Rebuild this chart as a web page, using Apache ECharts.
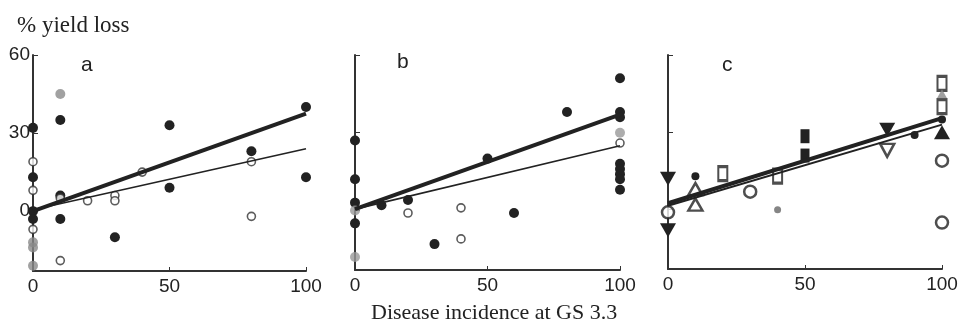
<!DOCTYPE html>
<html lang="en">
<head>
<meta charset="UTF-8">
<title>Yield loss vs disease incidence</title>
<style>
  html, body { margin: 0; padding: 0; background: #fff; }
  #chart { width: 962px; height: 325px; }
</style>
</head>
<body>
<div id="chart"></div>
<script src="https://cdn.jsdelivr.net/npm/echarts@6/dist/echarts.min.js"></script>
<script>
// ---- data: [disease incidence %, % yield loss] ----
var xTicks = [0, 50, 100];
var yTicks = [0, 30, 60];

// panel a
var aDark = [[0, 32], [0, 13], [0, 0], [0, -3], [10, 35], [10, 6], [10, -3], [30, -10],
  [50, 33], [50, 9], [80, 23], [100, 40], [100, 13]];
var aGray = [[10, 45], [0, -12], [0, -14], [0, -21]];
var aOpen = [[0, 19], [0, 8], [0, -7], [10, 5], [10, -19], [20, 4], [30, 6], [30, 4],
  [40, 15], [80, 19], [80, -2]];
var aThick = [[0, 0], [100, 37.5]];
var aThin = [[0, 0.5], [100, 24]];

// panel b
var bDark = [[0, 27], [0, 12], [0, 3], [0, -5], [10, 2], [20, 4], [30, -13], [50, 20],
  [60, -1], [80, 38], [100, 51], [100, 38], [100, 36], [100, 18], [100, 16],
  [100, 14], [100, 12], [100, 8]];
var bGray = [[0, 0], [0, -18], [100, 30]];
var bOpen = [[20, -1], [40, 1], [40, -11], [100, 26]];
var bThick = [[0, 0.5], [100, 37]];
var bThin = [[0, 0.5], [100, 25]];

// panel c
var cTriDownFilled = [[0, 12], [0, -8], [80, 31]];
var cTriDownOpen = [[80, 23]];
var cTriUpOpen = [[10, 8], [10, 2]];
var cTriUpFilled = [[100, 30]];
var cCircleOpen = [[0, -1], [30, 7], [100, 19], [100, -5]];
var cDotDark = [[10, 13], [90, 29], [100, 35]];
var cDotGray = [[40, 0]];
var cSquareOpen = [[20, 14], [40, 13], [100, 49], [100, 40]];
var cSquareFilled = [[50, 28.5], [50, 21]];
var cStar = [[100, 45]];
var cThick = [[0, 2.5], [100, 35.5]];
var cThin = [[0, 1.5], [100, 33]];

var SANS = 'Liberation Sans';
var SERIF = 'Liberation Serif';
var INK = '#222';

var chart = echarts.init(document.getElementById('chart'));

function xAx(idx) {
  return {
    gridIndex: idx, type: 'value', min: 0, max: 100, interval: 50,
    splitLine: { show: false },
    axisLine: { onZero: false, lineStyle: { color: '#333', width: 2 } },
    axisTick: { inside: true, length: 4, lineStyle: { color: '#333', width: 1 } },
    axisLabel: { color: INK, fontFamily: SANS, fontSize: 19, margin: 6 }
  };
}
function yAx(idx, labels) {
  return {
    gridIndex: idx, type: 'value', min: -23, max: 60,
    splitLine: { show: false },
    axisLine: { onZero: false, lineStyle: { color: '#333', width: 2 } },
    axisTick: { inside: true, length: 5, customValues: yTicks, lineStyle: { color: '#333', width: 1 } },
    axisLabel: { show: labels, customValues: yTicks, color: INK, fontFamily: SANS, fontSize: 19, margin: 3 }
  };
}
function pts(idx, data, opts) {
  return Object.assign({
    type: 'scatter', xAxisIndex: idx, yAxisIndex: idx, data: data, clip: false,
    symbol: 'circle', symbolSize: 10, z: 3,
    itemStyle: { color: INK, opacity: 1 }
  }, opts);
}
function reg(idx, data, width, z) {
  return {
    type: 'line', xAxisIndex: idx, yAxisIndex: idx, data: data, symbol: 'none',
    lineStyle: { color: INK, width: width }, z: z || 4, silent: true
  };
}
var openStyle = { color: '#fff', borderColor: '#333', borderWidth: 1.6 };

var option = {
  animation: false,
  backgroundColor: '#fff',
  title: [
    { text: '% yield loss', left: 12, top: 9, textStyle: { fontFamily: SERIF, fontSize: 23, fontWeight: 'normal', color: INK } },
    { text: 'Disease incidence at GS 3.3', left: 366, top: 297, textStyle: { fontFamily: SERIF, fontSize: 22, fontWeight: 'normal', color: INK } },
    { text: 'a', left: 76, top: 50, textStyle: { fontFamily: SANS, fontSize: 21, fontWeight: 'normal', color: INK } },
    { text: 'b', left: 392, top: 47, textStyle: { fontFamily: SANS, fontSize: 21, fontWeight: 'normal', color: INK } },
    { text: 'c', left: 717, top: 50, textStyle: { fontFamily: SANS, fontSize: 21, fontWeight: 'normal', color: INK } }
  ],
  grid: [
    { left: 33, right: 656, top: 55, bottom: 54 },
    { left: 355, right: 342, top: 55, bottom: 55 },
    { left: 668, right: 20, top: 55, bottom: 56 }
  ],
  xAxis: [xAx(0), xAx(1), xAx(2)],
  yAxis: [yAx(0, true), yAx(1, false), yAx(2, false)],
  series: [
    reg(0, aThick, 4), reg(0, aThin, 1.6),
    pts(0, aDark, {}),
    pts(0, aGray, { itemStyle: { color: '#8a8a8a' } }),
    pts(0, aOpen, { symbolSize: 8, itemStyle: openStyle }),

    reg(1, bThick, 4), reg(1, bThin, 1.6),
    pts(1, bDark, {}),
    pts(1, bGray, { itemStyle: { color: '#999' } }),
    pts(1, bOpen, { symbolSize: 8, itemStyle: openStyle }),

    reg(2, cThin, 2, 4), reg(2, cThick, 4, 4),
    pts(2, cTriDownFilled, { symbol: 'triangle', symbolRotate: 180, symbolSize: [16, 14] }),
    pts(2, cTriDownOpen, { symbol: 'triangle', symbolRotate: 180, symbolSize: [14, 13], itemStyle: { color: '#fff', borderColor: '#222', borderWidth: 2.5 } }),
    pts(2, cTriUpOpen, { symbol: 'triangle', symbolSize: [14, 12], itemStyle: { color: '#fff', borderColor: '#222', borderWidth: 2.5 } }),
    pts(2, cTriUpFilled, { symbol: 'triangle', symbolSize: [16, 14] }),
    pts(2, cCircleOpen, { symbolSize: 12, itemStyle: { color: '#fff', borderColor: '#222', borderWidth: 2.5 } }),
    pts(2, cDotDark, { symbolSize: 8 }),
    pts(2, cDotGray, { symbolSize: 7, itemStyle: { color: '#666' } }),
    pts(2, cSquareOpen, { symbol: 'rect', symbolSize: [9, 14], itemStyle: { color: '#fff', borderColor: '#222', borderWidth: 2.5 } }),
    pts(2, cSquareFilled, { symbol: 'rect', symbolSize: [9, 14] }),
    pts(2, cStar, { symbol: 'triangle', symbolSize: [10, 9], itemStyle: { color: '#888' } })
  ]
};

chart.setOption(option);
</script>
</body>
</html>
